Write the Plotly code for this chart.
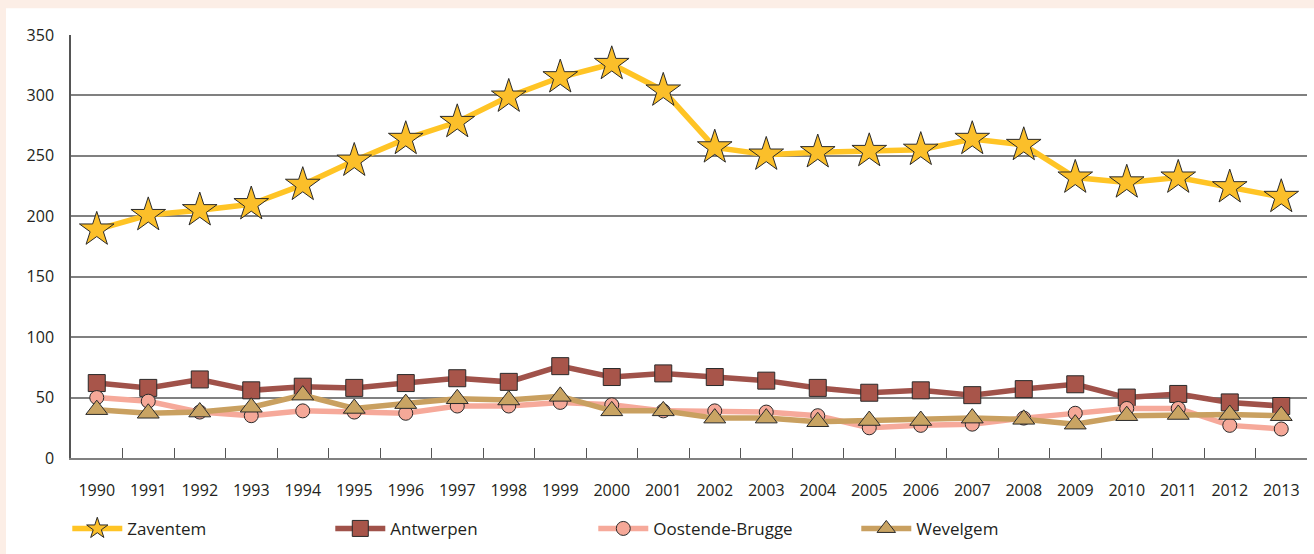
import plotly.graph_objects as go

years = [str(y) for y in range(1990, 2014)]
zaventem = [189, 201, 205, 210, 226, 246, 264, 278, 299, 315, 326, 304, 257, 251, 253, 254, 255, 264, 259, 232, 228, 232, 224, 216]
antwerpen = [62, 58, 65, 56, 59, 58, 62, 66, 63, 76, 67, 70, 67, 64, 58, 54, 56, 52, 57, 61, 50, 53, 46, 43]
oostende = [50, 47, 38, 35, 39, 38, 37, 43, 43, 46, 44, 39, 39, 38, 35, 25, 27, 28, 33, 37, 41, 41, 27, 24]
wevelgem = [40, 37, 38, 42, 52, 41, 45, 49, 48, 51, 39, 39, 33, 33, 30, 31, 31, 33, 32, 28, 35, 36, 36, 35]
y_ticks = [0, 50, 100, 150, 200, 250, 300, 350]

series = [
    ("Zaventem", zaventem, "#FFC425", "#FBBF2A", "star", 26),
    ("Antwerpen", antwerpen, "#A0524A", "#A8554A", "square", 17),
    ("Oostende-Brugge", oostende, "#F6A99A", "#F5A898", "circle", 14),
    ("Wevelgem", wevelgem, "#C9A060", "#C9A463", "triangle-up", 19),
]

fig = go.Figure()
for name, vals, lc, mc, sym, sz in series:
    fig.add_trace(go.Scatter(
        x=years, y=vals, name=name, mode="lines+markers",
        line=dict(color=lc, width=5.5),
        marker=dict(symbol=sym, size=sz, color=mc, line=dict(color="#2a2a2a", width=1)),
    ))

W, H = 1314, 554
L, R, T, B = 71, 7, 35, 93
pw, ph = W - L - R, H - T - B

fig.add_shape(type="rect", xref="paper", yref="paper",
              x0=(6 - L) / pw, x1=(W - L + 5) / pw,
              y0=-(B + 5) / ph, y1=(H - B - 8) / ph,
              fillcolor="white", line_width=0, layer="below")

fig.update_layout(
    width=W, height=H,
    margin=dict(l=L, r=R, t=T, b=B),
    paper_bgcolor="#FCEEE6",
    plot_bgcolor="white",
    font=dict(family="Open Sans", size=16, color="#231F20"),
    showlegend=True,
    legend=dict(orientation="h", x=-0.003, xanchor="left", y=-0.125, yanchor="top",
                entrywidth=198, entrywidthmode="pixels", itemwidth=50,
                font=dict(size=17, color="#231F20"), bgcolor="rgba(0,0,0,0)"),
    xaxis=dict(type="category", range=[-0.5, 23.5], automargin=False, showgrid=False,
               showline=True, linecolor="#808080", linewidth=2,
               ticks="inside", tickson="boundaries", ticklen=10, tickcolor="#555555", tickwidth=1,
               ticklabelstandoff=17, tickfont=dict(size=16)),
    yaxis=dict(range=[0, 350], tickvals=y_ticks, automargin=False, showgrid=True,
               gridcolor="#808080", gridwidth=1.5,
               showline=True, linecolor="#555555", linewidth=1.5, zeroline=False,
               ticks="", ticklabelstandoff=12, tickfont=dict(size=16)),
)

fig.write_html("out.html", config={"displayModeBar": False},
               post_script="document.body.style.margin='0';document.body.style.overflow='hidden';")
